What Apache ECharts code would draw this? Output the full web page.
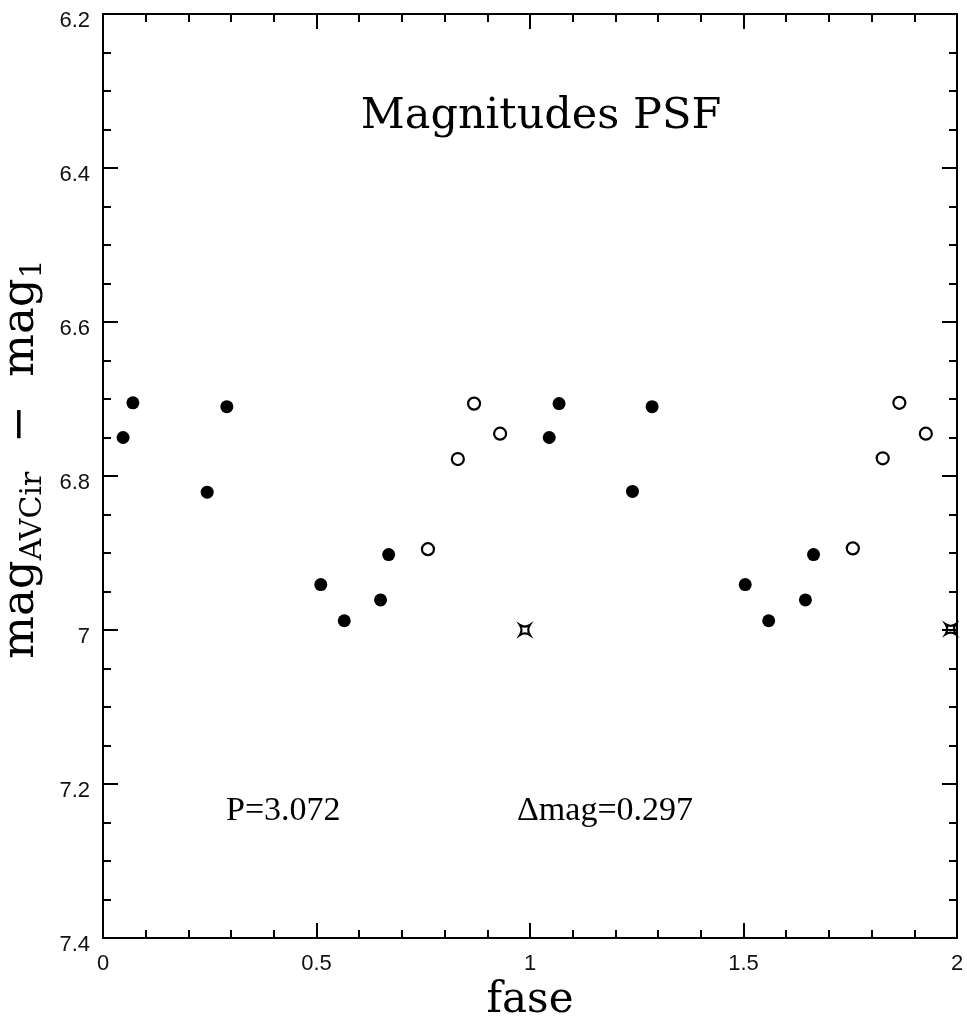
<!DOCTYPE html>
<html>
<head>
<meta charset="utf-8">
<script src="https://cdn.jsdelivr.net/npm/echarts@6/dist/echarts.min.js"></script>
<style>html,body{margin:0;padding:0;background:#fff}#c{width:967px;height:1023px}</style>
</head>
<body>
<div id="c"></div>
<script>
// Phase (fase) and magnitude difference values
const filledPts = [
  [0.047, 6.750], [0.070, 6.705], [0.244, 6.821], [0.290, 6.710],
  [0.510, 6.941], [0.565, 6.988], [0.650, 6.961], [0.669, 6.902],
  [1.045, 6.750], [1.068, 6.706], [1.240, 6.820], [1.286, 6.710],
  [1.504, 6.941], [1.559, 6.988], [1.645, 6.961], [1.664, 6.902]
];
const openPts = [
  [0.761, 6.895], [0.831, 6.778], [0.869, 6.706], [0.930, 6.745],
  [1.756, 6.894], [1.826, 6.777], [1.865, 6.705], [1.927, 6.745]
];
const starPts = [
  [0.988, 7.000], [1.985, 6.999]
];
const xTicks = { min: 0, max: 2, step: 0.5 };
const yTicks = { min: 6.2, max: 7.4, step: 0.2 };
const titleText = 'Magnitudes PSF';
const periodText = 'P=3.072';
const dmagText = '\u0394mag=0.297';

const chart = echarts.init(document.getElementById('c'));
const lineStyle = { color: '#000', width: 2 };
const fmt = v => String(+(+v).toFixed(2));
const starPath = 'path://M0,0 Q5,3.2 10,0 Q6.8,5 10,10 Q5,6.8 0,10 Q3.2,5 0,0 Z';

function xAx(pos, showLabel) {
  return {
    type: 'value', position: pos, min: xTicks.min, max: xTicks.max, interval: xTicks.step,
    axisLine: { show: true, onZero: false, lineStyle },
    axisTick: { show: true, inside: true, length: 15, lineStyle },
    minorTick: { show: true, splitNumber: 5, length: 8, lineStyle },
    splitLine: { show: false },
    axisLabel: { show: showLabel, formatter: fmt, margin: 15, fontFamily: 'Liberation Sans', fontSize: 22, color: '#111' },
    name: showLabel ? 'fase' : '', nameLocation: 'middle', nameGap: 42,
    nameTextStyle: { fontFamily: 'DejaVu Serif', fontSize: 42, color: '#000' }
  };
}
function yAx(pos, showLabel) {
  return {
    type: 'value', position: pos, inverse: true, min: yTicks.min, max: yTicks.max, interval: yTicks.step,
    axisLine: { show: true, onZero: false, lineStyle },
    axisTick: { show: true, inside: true, length: 15, lineStyle },
    minorTick: { show: true, splitNumber: 4, length: 8, lineStyle },
    splitLine: { show: false },
    axisLabel: { show: showLabel, formatter: fmt, margin: 13, verticalAlign: 'top', lineHeight: 13, fontFamily: 'Liberation Sans', fontSize: 22, color: '#111' },
    name: showLabel ? '{m|mag}{s|AVCir}{m|  \u2212  mag}{s|1}' : '',
    nameLocation: 'middle', nameRotate: 90, nameGap: 54,
    nameTextStyle: {
      padding: [0, 0, 0, 34],
      rich: {
        m: { fontFamily: 'DejaVu Serif', fontSize: 45, color: '#000' },
        s: { fontFamily: 'DejaVu Serif', fontSize: 30, color: '#000', padding: [24, 0, 0, 0] }
      }
    }
  };
}

chart.setOption({
  animation: false,
  backgroundColor: '#fff',
  grid: { left: 103, top: 14, right: 10, bottom: 85, containLabel: false, outerBoundsMode: 'none' },
  xAxis: [xAx('bottom', true), xAx('top', false)],
  yAxis: [yAx('left', true), yAx('right', false)],
  graphic: [
    { type: 'text', x: 541, y: 117, style: { text: titleText, fontFamily: 'DejaVu Serif', fontSize: 43, fill: '#000', align: 'center', verticalAlign: 'middle' } },
    { type: 'text', x: 226, y: 811, style: { text: periodText, fontFamily: 'Liberation Serif', fontSize: 34, fill: '#000', align: 'left', verticalAlign: 'middle' } },
    { type: 'text', x: 517, y: 811, style: { text: dmagText, fontFamily: 'Liberation Serif', fontSize: 34, fill: '#000', align: 'left', verticalAlign: 'middle' } }
  ],
  series: [
    { type: 'scatter', data: filledPts, symbol: 'circle', symbolSize: 13, itemStyle: { color: '#000', opacity: 1 } },
    { type: 'scatter', data: openPts, symbol: 'circle', symbolSize: 12, itemStyle: { color: '#fff', borderColor: '#000', borderWidth: 2.2, opacity: 1 } },
    { type: 'scatter', data: starPts, symbol: starPath, symbolSize: 10, itemStyle: { color: 'rgba(0,0,0,0)', borderColor: '#000', borderWidth: 2.2, opacity: 1 } }
  ]
});
</script>
</body>
</html>
